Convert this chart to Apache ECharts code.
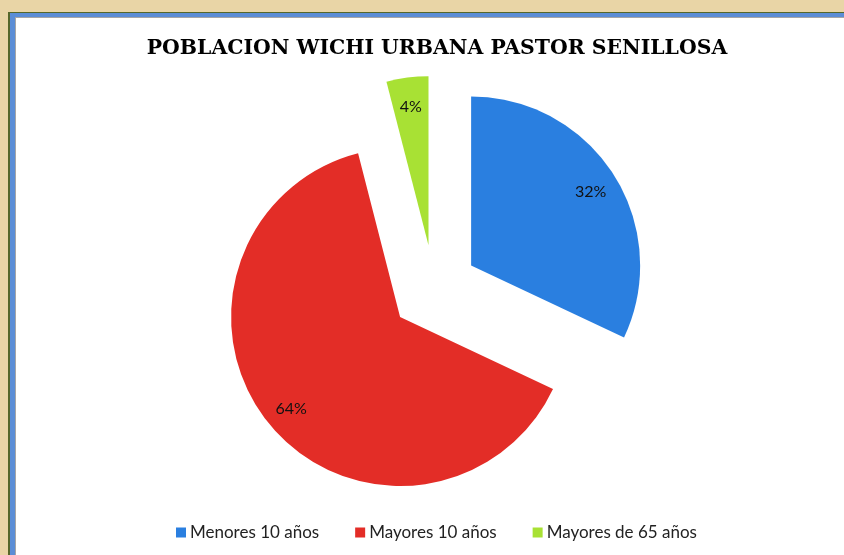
<!DOCTYPE html>
<html>
<head>
<meta charset="utf-8">
<script src="https://cdn.jsdelivr.net/npm/echarts@6/dist/echarts.min.js"></script>
<style>
  html, body { margin: 0; padding: 0; }
  #chart { width: 844px; height: 555px; }
</style>
</head>
<body>
<div id="chart"></div>
<script>
// datos del grafico
var categorias = ['Menores 10 años', 'Mayores 10 años', 'Mayores de 65 años']
var valores = [32, 64, 4]
var colores = ['#2A7FE0', '#E32D27', '#A8E134']

var chart = echarts.init(document.getElementById('chart'))

var datos = categorias.map(function (c, i) {
  return { name: c, value: valores[i], selected: true, itemStyle: { color: colores[i] } }
})

chart.setOption({
  backgroundColor: '#E9D5A6',
  animation: false,
  // marco del grafico (borde verde, azul y gris)
  graphic: [
    { type: 'rect', shape: { x: 8, y: 12, width: 900, height: 600 }, style: { fill: '#55672A' }, z: -10 },
    { type: 'rect', shape: { x: 10, y: 13, width: 900, height: 600 }, style: { fill: '#5B8DD6' }, z: -9 },
    { type: 'rect', shape: { x: 15, y: 17, width: 900, height: 600 }, style: { fill: '#A6A6A6' }, z: -8 },
    { type: 'rect', shape: { x: 16, y: 18, width: 900, height: 600 }, style: { fill: '#FFFFFF' }, z: -7 }
  ],
  title: {
    text: 'POBLACION WICHI URBANA PASTOR SENILLOSA',
    left: 432,
    textAlign: 'center',
    top: 34,
    textStyle: {
      fontFamily: 'DejaVu Serif',
      fontWeight: 'bold',
      fontSize: 20.4,
      color: '#000'
    }
  },
  legend: {
    data: categorias,
    left: 171,
    top: 519,
    icon: 'rect',
    itemWidth: 10,
    itemHeight: 10,
    itemGap: 36,
    textStyle: { fontFamily: 'Lato', fontSize: 17, color: '#222', padding: [0, 0, 0, -1] }
  },
  series: [
    {
      name: 'poblacion',
      type: 'pie',
      center: [434, 289],
      radius: [0, 169],
      startAngle: 90,
      clockwise: true,
      selectedMode: 'multiple',
      selectedOffset: 44,
      label: { show: false },
      labelLine: { show: false },
      emphasis: { disabled: true },
      select: { itemStyle: { borderWidth: 0 } },
      data: datos
    },
    {
      // serie solo para ubicar las etiquetas
      name: 'etiquetas',
      type: 'pie',
      center: [434, 291],
      radius: [108, 169],
      startAngle: 90,
      clockwise: true,
      selectedMode: 'multiple',
      selectedOffset: 44,
      silent: true,
      legendHoverLink: false,
      itemStyle: { color: 'rgba(0,0,0,0)' },
      emphasis: { disabled: true },
      label: {
        show: true,
        position: 'inside',
        formatter: '{d}%',
        fontFamily: 'Lato',
        fontSize: 16,
        color: '#111'
      },
      labelLine: { show: false },
      data: categorias.map(function (c, i) {
        return { name: c, value: valores[i], selected: true }
      })
    }
  ]
})
</script>
</body>
</html>
